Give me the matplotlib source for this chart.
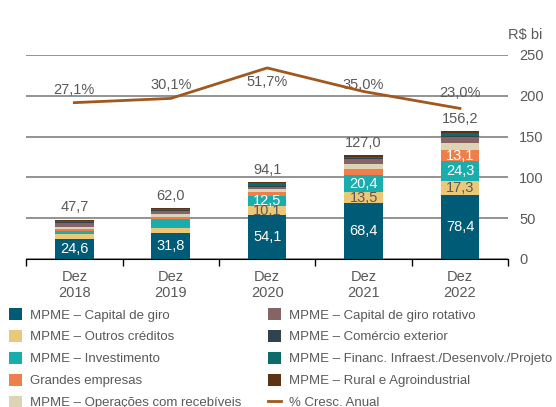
import numpy as np
import matplotlib
matplotlib.use("Agg")
import matplotlib.pyplot as plt

plt.rcParams['font.family'] = ['Liberation Sans', 'DejaVu Sans']

# ---------------------------------------------------------------------------
#   Data (R$ bi)
years = ["Dez\n2018", "Dez\n2019", "Dez\n2020", "Dez\n2021", "Dez\n2022"]

capital_giro = [24.6, 31.8, 54.1, 68.4, 78.4]
outros_creditos = [6.0, 6.4, 10.1, 13.5, 17.3]
investimento = [3.8, 10.2, 12.5, 20.4, 24.3]
grandes_empresas = [2.4, 3.4, 5.0, 7.7, 13.1]
recebiveis = [2.8, 3.0, 3.4, 6.2, 8.4]
giro_rotativo = [4.0, 4.2, 3.4, 6.2, 7.5]
comercio_exterior = [1.2, 0.7, 1.3, 1.0, 1.2]
financ_infra = [1.7, 1.0, 3.0, 1.9, 3.7]
rural = [1.2, 1.3, 1.3, 1.7, 2.3]

totals = [47.7, 62.0, 94.1, 127.0, 156.2]
growth = [27.1, 30.1, 51.7, 35.0, 23.0]

# ---------------------------------------------------------------------------
series = [
    ("MPME – Capital de giro", capital_giro, "#005b76"),
    ("MPME – Outros créditos", outros_creditos, "#eac877"),
    ("MPME – Investimento", investimento, "#1aadad"),
    ("Grandes empresas", grandes_empresas, "#ef7f4a"),
    ("MPME – Operações com recebíveis", recebiveis, "#ddd3b5"),
    ("MPME – Capital de giro rotativo", giro_rotativo, "#866465"),
    ("MPME – Comércio exterior", comercio_exterior, "#30434f"),
    ("MPME – Financ. Infraest./Desenvolv./Projeto", financ_infra, "#0d6b69"),
    ("MPME – Rural e Agroindustrial", rural, "#5b3513"),
]
gray = "#595959"
line_color = "#a0581e"

fig = plt.figure(figsize=(5.56, 4.07), dpi=100)
ax = fig.add_axes([0.047, 0.364, 0.867, 0.501])

x = np.arange(len(years))
bottom = np.zeros(len(years))
handles = []
for name, vals, col in series:
    b = ax.bar(x, vals, 0.4, bottom=bottom, color=col, label=name, zorder=3)
    handles.append(b)
    bottom += np.array(vals)

# labels inside segments
def seg_labels(vals, base, idx, color):
    for i in idx:
        ax.text(x[i], base[i] + vals[i] / 2, f"{vals[i]:.1f}".replace(".", ","),
                ha="center", va="center", color=color, fontsize=10.5, zorder=4)

base0 = np.zeros(len(years))
seg_labels(capital_giro, base0, range(5), "white")
base1 = base0 + np.array(capital_giro)
seg_labels(outros_creditos, base1, [2, 3, 4], gray)
base2 = base1 + np.array(outros_creditos)
seg_labels(investimento, base2, [2, 3, 4], "white")
base3 = base2 + np.array(investimento)
seg_labels(grandes_empresas, base3, [4], "white")

for i, t in enumerate(totals):
    ax.annotate(f"{t:.1f}".replace(".", ","), (x[i], t), xytext=(0, 9),
                textcoords="offset points", ha="center", va="center",
                color=gray, fontsize=10.5)

# growth line on a hidden second axis
ax2 = ax.twinx()
ax2.set_ylim(-83.6, 60.9)
ax2.axis("off")
ln, = ax2.plot(x, growth, color=line_color, linewidth=2, label="% Cresc. Anual", zorder=6)
offsets = [9, 10, -10, 5, 11]
for i, g in enumerate(growth):
    ax2.annotate(f"{g:.1f}%".replace(".", ","), (x[i], g), xytext=(0, offsets[i]),
                 textcoords="offset points", ha="center", va="center",
                 color=gray, fontsize=10.5)

ax.set_xlim(-0.5, 4.5)
ax.set_ylim(0, 250)
ax.set_yticks([0, 50, 100, 150, 200, 250])
ax.yaxis.tick_right()
ax.tick_params(axis="y", length=0, pad=8, labelcolor=gray, labelsize=10.5,
               left=False, labelleft=False, right=False, labelright=True)
ax.grid(axis="y", color="#808080", linewidth=1.2, zorder=0)
ax.set_xticks(x)
ax.set_xticklabels(years, color=gray, fontsize=10.5)
ax.set_xticks(np.arange(-0.5, 5, 1), minor=True)
ax.tick_params(axis="x", which="major", length=0, pad=8)
ax.tick_params(axis="x", which="minor", length=5, width=1, color="black")
for s in ["left", "right", "top"]:
    ax.spines[s].set_visible(False)
ax.spines["bottom"].set_color("black")
ax.spines["bottom"].set_zorder(5)
ax.text(1.0, 1.1, "R$ bi", transform=ax.transAxes, ha="left", va="center",
        color=gray, fontsize=10.5)

handles.append(ln)
fig.legend(handles=handles, labels=[h.get_label() for h in handles],
           loc="upper left", bbox_to_anchor=(-0.006, 0.272), ncol=2, frameon=False,
           fontsize=9.5, labelcolor=gray, handlelength=1.0, handleheight=1.0,
           handletextpad=0.6, columnspacing=2.05, labelspacing=0.64)

fig.savefig("out.png", dpi=100)
